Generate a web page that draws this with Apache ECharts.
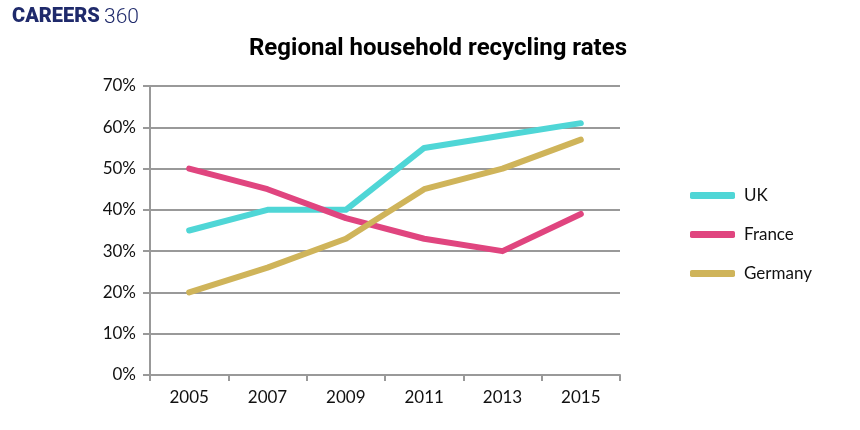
<!DOCTYPE html>
<html><head><meta charset="utf-8">
<script src="https://cdn.jsdelivr.net/npm/echarts@6/dist/echarts.min.js"></script>
<style>html,body{margin:0;padding:0;background:#fff}#c{width:860px;height:430px}</style>
</head><body><div id="c"></div>
<script>
const years = ['2005','2007','2009','2011','2013','2015'];
const uk = [35, 40, 40, 55, 58, 61];
const france = [50, 45, 38, 33, 30, 39];
const germany = [20, 26, 33, 45, 50, 57];
const seriesNames = ['UK','France','Germany'];
const colors = ['#4fd6d6','#e0457f','#cfb45a'];

const chart = echarts.init(document.getElementById('c'));
const F = 'Lato, "Open Sans", sans-serif';
chart.setOption({
  animation:false,
  backgroundColor:'#fff',
  title:{text:'Regional household recycling rates',left:433,textAlign:'center',top:32,
    textStyle:{fontFamily:'Roboto, sans-serif',fontSize:24,fontWeight:'bold',color:'#000'}},
  graphic:[
    {type:'text',left:12,top:7,style:{text:'CAREERS',font:'900 20px Roboto, "Liberation Sans", Arial, sans-serif',fill:'#1f2a6b'}},
    {type:'text',left:104,top:7,style:{text:'360',font:'300 21px Roboto, "Open Sans", sans-serif',fill:'#1f2a6b'}}
  ],
  legend:{orient:'vertical',left:685,top:182,itemGap:22,itemWidth:45,itemHeight:7,icon:'roundRect',
    data:seriesNames,textStyle:{fontFamily:F,fontSize:17,color:'#111',padding:[0,0,0,4]}},
  grid:{left:150,right:240,top:86,bottom:55},
  xAxis:{type:'category',data:years,boundaryGap:true,
    axisLine:{lineStyle:{color:'#999',width:2}},
    axisTick:{show:true,length:6,lineStyle:{color:'#999',width:2}},
    axisLabel:{fontFamily:F,fontSize:17,color:'#111',margin:14}},
  yAxis:{type:'value',min:0,max:70,interval:10,
    axisLine:{show:true,lineStyle:{color:'#999',width:2}},
    axisTick:{show:true,length:7,lineStyle:{color:'#999',width:2}},
    splitLine:{lineStyle:{color:'#999',width:2}},
    axisLabel:{formatter:'{value}%',fontFamily:F,fontSize:17,color:'#111',margin:14}},
  series:[uk,france,germany].map((d,i)=>({
    name:seriesNames[i],type:'line',data:d,symbol:'none',color:colors[i],
    lineStyle:{width:6,color:colors[i],cap:'round',join:'round'}
  }))
});
</script></body></html>
